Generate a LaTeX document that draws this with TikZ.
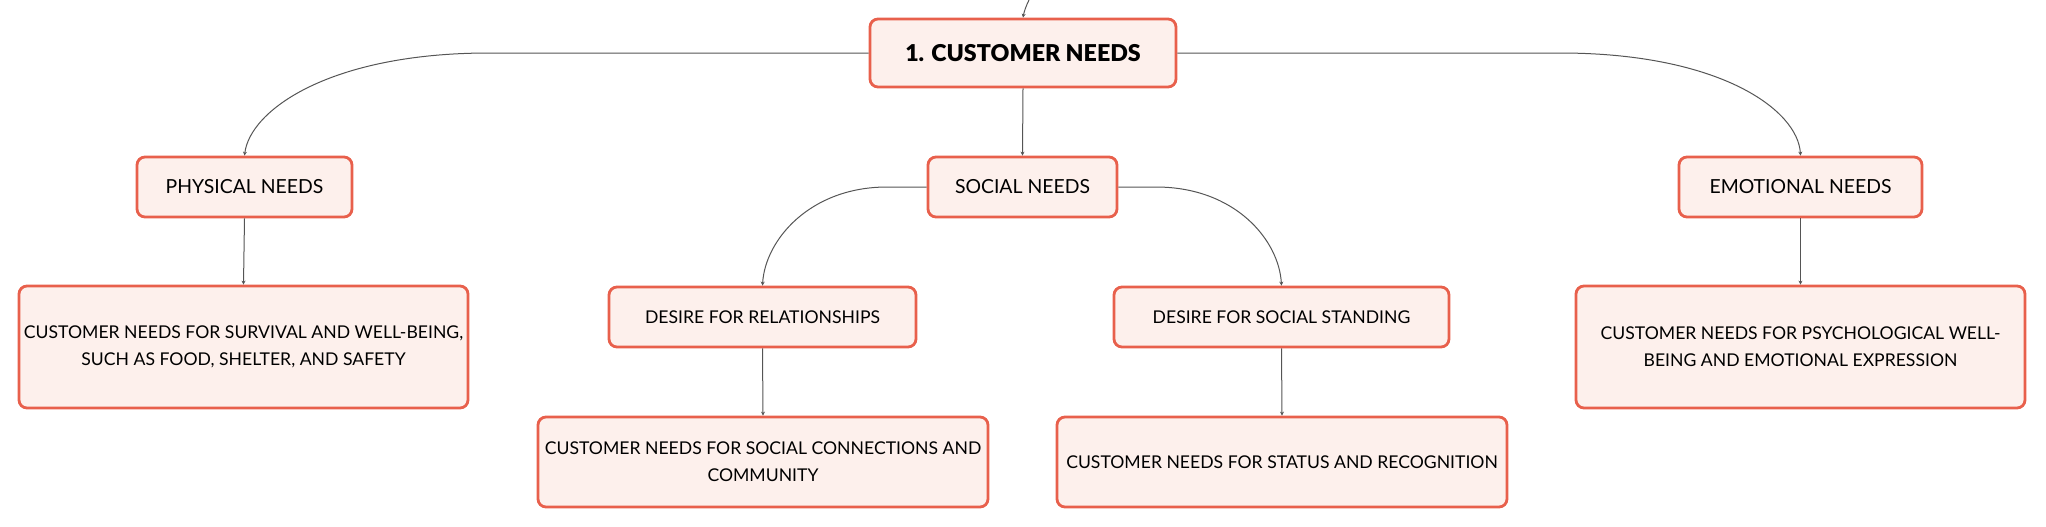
\documentclass[tikz,border=0pt]{standalone}
\usepackage{fontspec}
\setmainfont{Lato}
\newfontfamily\rootfont{Lato Black}
\usetikzlibrary{arrows.meta}
\definecolor{boxline}{HTML}{E8604C}
\definecolor{boxfill}{HTML}{FDF0EC}
\definecolor{linkcol}{HTML}{555555}
\tikzset{
  box/.style={draw=boxline, fill=boxfill, line width=1.4pt, rounded corners=4pt,
    align=center, inner sep=0pt, text=black},
  rootbox/.style={box, font=\fontsize{11.6}{14}\selectfont\rootfont},
  midbox/.style={box, font=\fontsize{9.7}{13.5}\selectfont},
  leafbox/.style={box, font=\fontsize{8.8}{13.5}\selectfont},
  link/.style={draw=linkcol, line width=0.5pt, -{Stealth[length=2pt,width=2pt]}},
}
\begin{document}
\begin{tikzpicture}[x=0.5pt,y=-0.5pt]
\useasboundingbox (0,0) rectangle (2046,526);
\node[rootbox, minimum width=153pt, minimum height=34pt] (root) at (1023,53) {1. CUSTOMER NEEDS};
\node[midbox, minimum width=107.5pt, minimum height=30pt] (phys) at (244.5,187) {PHYSICAL NEEDS};
\node[midbox, minimum width=94.5pt, minimum height=30pt] (soc) at (1022.5,187) {SOCIAL NEEDS};
\node[midbox, minimum width=121.5pt, minimum height=30pt] (emo) at (1800.5,187) {EMOTIONAL NEEDS};
\node[leafbox, minimum width=224.5pt, minimum height=61pt] (physd) at (243.5,347) {CUSTOMER NEEDS FOR SURVIVAL AND WELL-BEING,\\SUCH AS FOOD, SHELTER, AND SAFETY};
\node[leafbox, minimum width=224.5pt, minimum height=61pt] (emod) at (1800.5,347) {CUSTOMER NEEDS FOR PSYCHOLOGICAL WELL-\\BEING AND EMOTIONAL EXPRESSION};
\node[leafbox, minimum width=153.5pt, minimum height=30pt] (rel) at (762.5,317) {DESIRE FOR RELATIONSHIPS};
\node[leafbox, minimum width=167.5pt, minimum height=30pt] (stand) at (1281.5,317) {DESIRE FOR SOCIAL STANDING};
\node[leafbox, minimum width=225pt, minimum height=45pt] (reld) at (763,462) {CUSTOMER NEEDS FOR SOCIAL CONNECTIONS AND\\COMMUNITY};
\node[leafbox, minimum width=225pt, minimum height=45pt] (standd) at (1282,462) {CUSTOMER NEEDS FOR STATUS AND RECOGNITION};
\coordinate (parent) at (1029,0);
% connectors
\draw[link] (parent) .. controls (1026,6) and (1024,12) .. (root.north);
\draw[link] (root.west) -- (489,53) .. controls (330,53) and (250,110) .. (phys.north);
\draw[link] (root.east) -- (1560,53) .. controls (1720,53) and (1798,110) .. (emo.north);
\draw[link] (root.south) -- (soc.north);
\draw[link] (soc.west) -- (887,187) .. controls (810,187) and (765,240) .. (rel.north);
\draw[link] (soc.east) -- (1156,187) .. controls (1235,187) and (1279,240) .. (stand.north);
\draw[link] (phys.south) -- (physd.north);
\draw[link] (emo.south) -- (emod.north);
\draw[link] (rel.south) -- (reld.north);
\draw[link] (stand.south) -- (standd.north);
\end{tikzpicture}
\end{document}
